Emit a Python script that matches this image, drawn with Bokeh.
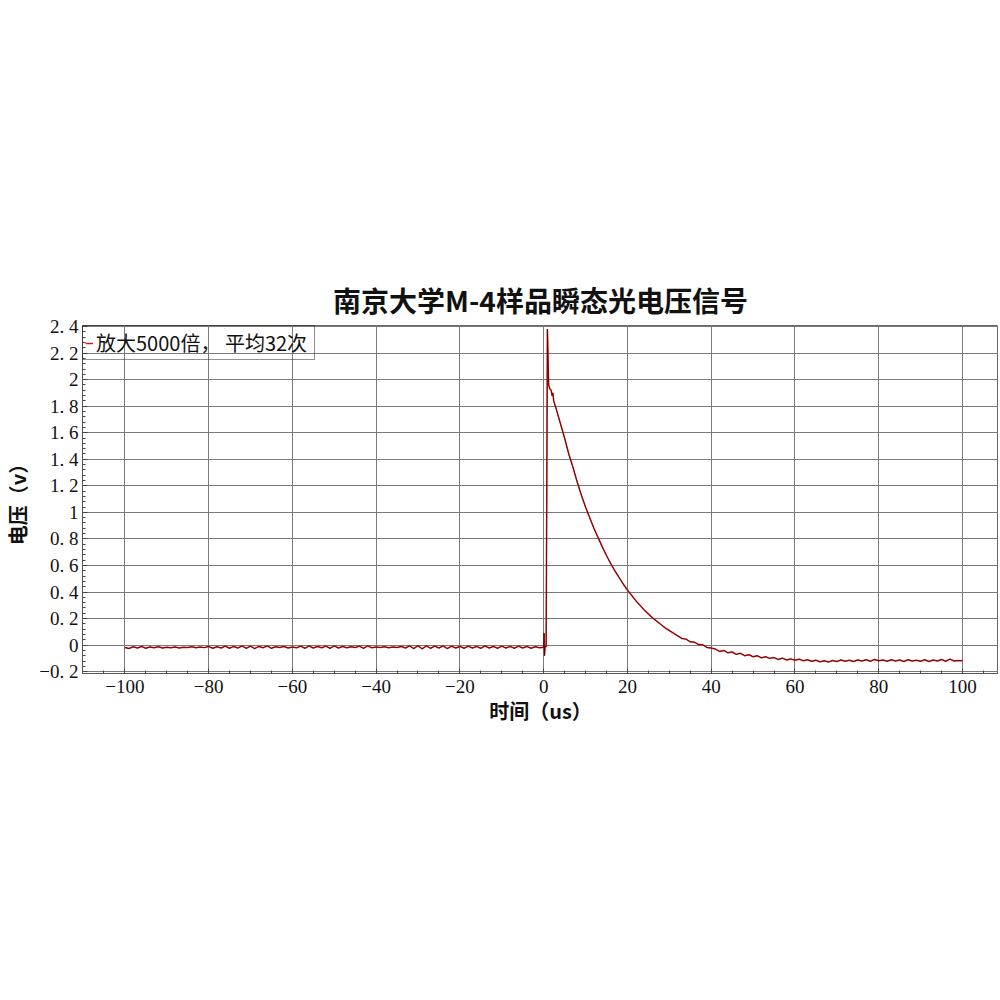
import numpy as np
from bokeh.plotting import figure
from bokeh.models import (Range1d, FixedTicker, CustomJSTickFormatter, Legend, LegendItem,
                          ColumnDataSource, Title)
from bokeh.embed import file_html
from bokeh.resources import INLINE

# ---------------- data ----------------
title_text = "南京大学M-4样品瞬态光电压信号"
x_label = "时间（us）"
y_label = "电压（v）"
legend_label = "放大5000倍， 平均32次"

x_ticks = [-100, -80, -60, -40, -20, 0, 20, 40, 60, 80, 100]
x_tick_labels = ["−100", "−80", "−60", "−40", "−20", "0", "20", "40", "60", "80", "100"]
y_ticks = [-0.2, 0, 0.2, 0.4, 0.6, 0.8, 1, 1.2, 1.4, 1.6, 1.8, 2, 2.2, 2.4]
y_tick_labels = ["−0. 2", "0", "0. 2", "0. 4", "0. 6", "0. 8", "1", "1. 2", "1. 4",
                 "1. 6", "1. 8", "2", "2. 2", "2. 4"]

# pre-trigger baseline, t = -100 .. 0 us (1 us step)
t_base = list(range(-100, 1))
v_base = [
    -0.018, -0.026, -0.012, -0.022, -0.010, -0.024, -0.014, -0.020, -0.012, -0.022,
    -0.016, -0.020, -0.014, -0.022, -0.016, -0.018, -0.012, -0.020, -0.015, -0.019,
    -0.010, -0.024, -0.012, -0.022, -0.008, -0.024, -0.010, -0.022, -0.006, -0.024,
    -0.008, -0.026, -0.010, -0.020, -0.006, -0.024, -0.012, -0.018, -0.010, -0.022,
    -0.014, -0.020, -0.008, -0.024, -0.006, -0.022, -0.010, -0.020, -0.008, -0.024,
    -0.006, -0.022, -0.010, -0.020, -0.012, -0.018, -0.008, -0.024, -0.006, -0.020,
    -0.014, -0.018, -0.012, -0.020, -0.014, -0.018, -0.010, -0.022, -0.006, -0.026,
    -0.004, -0.028, -0.006, -0.024, -0.008, -0.022, -0.006, -0.026, -0.008, -0.022,
    -0.010, -0.024, -0.008, -0.022, -0.010, -0.024, -0.006, -0.022, -0.010, -0.024,
    -0.008, -0.022, -0.010, -0.024, -0.008, -0.022, -0.010, -0.024, -0.012, -0.020,
    -0.016,
]

# trigger spike and peak
t_spike = [0.1, 0.2, 0.35, 0.6, 0.9, 1.2, 1.5, 1.8, 2.0, 2.2, 2.4, 2.7]
v_spike = [0.09, -0.08, -0.01, -0.012, 2.38, 1.96, 1.93, 1.92, 1.88, 1.90, 1.84, 1.81]

# decay, t = 3 .. 100 us (1 us step)
t_decay = list(range(3, 101))
v_decay = [
    1.78, 1.67, 1.56, 1.44, 1.34, 1.23, 1.13, 1.04, 0.96, 0.88,
    0.81, 0.74, 0.675, 0.615, 0.56, 0.51, 0.46, 0.415, 0.375, 0.335,
    0.30, 0.265, 0.235, 0.205, 0.18, 0.155, 0.13, 0.11, 0.09, 0.07,
    0.050, 0.045, 0.025, 0.022, 0.004, 0.002, -0.018, -0.022,
    -0.030, -0.048, -0.040, -0.058, -0.052, -0.070, -0.062, -0.080, -0.072, -0.088,
    -0.080, -0.096, -0.088, -0.100, -0.094, -0.108, -0.098, -0.112, -0.104, -0.114,
    -0.106, -0.118, -0.110, -0.122, -0.114, -0.126, -0.118, -0.128, -0.116, -0.124,
    -0.112, -0.122, -0.114, -0.124, -0.112, -0.120, -0.110, -0.122, -0.108, -0.118,
    -0.112, -0.122, -0.110, -0.120, -0.112, -0.124, -0.110, -0.120, -0.114, -0.122,
    -0.110, -0.124, -0.112, -0.120, -0.108, -0.122, -0.106, -0.120, -0.116, -0.118,
]

t_all = t_base + t_spike + t_decay
v_all = v_base + v_spike + v_decay
src = ColumnDataSource(dict(t=t_all, v=v_all))

# ---------------- figure ----------------
CJK = "Noto Sans CJK SC"
SERIF = "Liberation Serif"

p = figure(width=998, height=728, output_backend="svg", toolbar_location=None,
           x_range=Range1d(-110.1, 108.6), y_range=Range1d(-0.214, 2.408),
           min_border_left=81, min_border_right=0, min_border_top=325, min_border_bottom=55)

p.title = Title(text=title_text, align="center", text_font=CJK, text_font_size="28px",
                text_font_style="bold", text_color="#111111", standoff=11)

r_red = p.line("t", "v", source=src, line_color="#d81c1c", line_width=1.5)
r_dark = p.line("t", "v", source=src, line_color="#3a0000", line_width=0.9, line_alpha=0.75)

xt = FixedTicker(ticks=x_ticks, minor_ticks=list(np.arange(-110, 111, 5)))
yt = FixedTicker(ticks=y_ticks, minor_ticks=[round(v, 3) for v in np.arange(-0.2, 2.41, 0.04)])
p.xaxis.ticker = xt
p.yaxis.ticker = yt
p.xgrid.ticker = xt
p.ygrid.ticker = yt

fmt_code = """
for (let i = 0; i < tk.length; i++) {
  if (Math.abs(tk[i] - tick) < 1e-6) return lb[i];
}
return "";
"""
p.xaxis.formatter = CustomJSTickFormatter(args=dict(tk=x_ticks, lb=x_tick_labels), code=fmt_code)
p.yaxis.formatter = CustomJSTickFormatter(args=dict(tk=y_ticks, lb=y_tick_labels), code=fmt_code)

for ax in (p.xaxis, p.yaxis):
    ax.major_label_text_font = SERIF
    ax.major_label_text_font_size = "19px"
    ax.major_label_text_color = "#111111"
    ax.axis_label_text_font = CJK
    ax.axis_label_text_font_size = "20px"
    ax.axis_label_text_font_style = "bold"
    ax.axis_label_text_color = "#111111"
    ax.axis_line_color = "#555555"
    ax.major_tick_in = 5
    ax.major_tick_out = 0
    ax.minor_tick_in = 3
    ax.minor_tick_out = 0
    ax.major_tick_line_color = "#444444"
    ax.minor_tick_line_color = "#444444"

p.xaxis.axis_label = x_label
p.yaxis.axis_label = y_label
p.xaxis.major_label_standoff = 6
p.xaxis.axis_label_standoff = 0
p.yaxis.major_label_standoff = 4
p.yaxis.axis_label_standoff = 4

p.xgrid.grid_line_color = "#7a7a7a"
p.ygrid.grid_line_color = "#7a7a7a"
p.xgrid.grid_line_width = 1
p.ygrid.grid_line_width = 1
p.outline_line_color = "#666666"

legend = Legend(items=[LegendItem(label=legend_label, renderers=[r_red])],
                location="top_left", margin=0, padding=2, spacing=0,
                glyph_width=8, glyph_height=16, label_height=16, label_width=216,
                label_standoff=3,
                label_text_font=CJK, label_text_font_size="20px", label_text_color="#111111",
                border_line_color="#222222", border_line_width=1,
                background_fill_alpha=0)
p.add_layout(legend)

open("out.html", "w").write(file_html(p, INLINE))
